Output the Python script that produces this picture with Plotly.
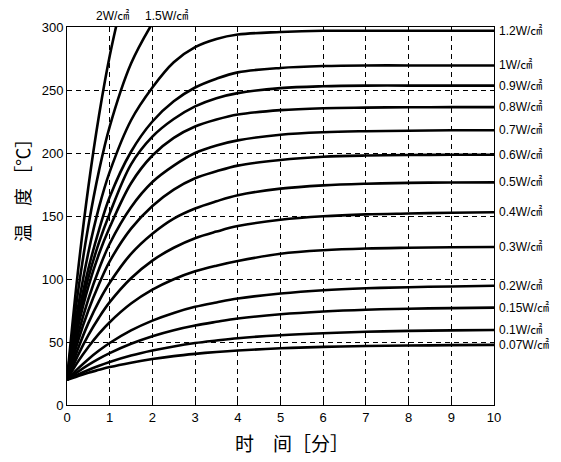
import plotly.graph_objects as go

# time [min] sample points
t = [0, 0.25, 0.5, 0.75, 1, 1.5, 2, 2.5, 3, 3.5, 4, 5, 6, 7, 8, 9, 10]

# temperature [degC] for each heat flux, read at the times above
p120 = [20, 76, 121, 157, 185, 226, 252, 272, 284, 290.5, 294, 296, 297, 297, 297, 297, 297]
p100 = [20, 69, 108, 139, 165, 201, 225, 241, 252, 259, 264, 267.5, 269, 269.5, 269.5, 269.5, 269.5]
p090 = [20, 65, 101, 129, 152, 191, 213, 227, 237, 243.5, 247.5, 251.5, 253, 253.5, 253.5, 253.5, 253.5]
p080 = [20, 61, 94, 120, 141, 176, 198, 212, 221, 226.5, 230.5, 234, 235.5, 236, 236.3, 236.4, 236.4]
p070 = [20, 55, 84, 108, 128, 157, 177, 190, 200, 206, 210, 214.5, 216.5, 217.3, 217.7, 218, 218]
p060 = [20, 50, 75, 96, 114, 140, 158, 171, 180, 185.5, 190, 194.5, 197, 198, 198.4, 198.6, 198.6]
p050 = [20, 44, 65, 82.5, 97, 120, 136, 148, 156, 161.7, 166.5, 171.7, 174.3, 175.6, 176.3, 176.6, 176.7]
p040 = [20, 39, 55.5, 69.5, 81.6, 100.6, 114.6, 124.8, 132.4, 137.6, 142, 147, 149.8, 151.3, 152, 152.6, 153]
p030 = [20, 34, 46, 56.6, 65.7, 80.5, 91.5, 99.8, 106.1, 110.6, 114.3, 120, 122.8, 124.2, 124.8, 125.2, 125.4]
p020 = [20, 28.7, 36.4, 43.2, 49.2, 59.2, 67, 73.1, 77.9, 81.4, 84.5, 88.5, 91.1, 92.6, 93.5, 94.1, 94.6]
p015 = [20, 26.2, 31.8, 36.8, 41.2, 48.6, 54.6, 59.4, 63.1, 66, 68.6, 72, 74.2, 75.6, 76.4, 76.9, 77.3]
p010 = [20, 24.1, 27.8, 31.1, 34.1, 39.2, 43.2, 46.5, 49.2, 51.2, 53, 55.4, 57, 58.1, 58.8, 59.2, 59.5]
p007 = [20, 22.9, 25.6, 27.9, 30.1, 33.6, 36.5, 38.8, 40.6, 42.1, 43.3, 45, 46.1, 46.8, 47.2, 47.5, 47.7]

# the two fast curves leave the top of the chart
t200 = [0, 0.25, 0.5, 0.75, 1.0, 1.25]
p200 = [20, 104, 173, 230, 277, 315]
t150 = [0, 0.25, 0.5, 0.75, 1.0, 1.5, 2.0]
p150 = [20, 88, 142, 186, 221, 271, 303]

right_labels = ['1.2', '1', '0.9', '0.8', '0.7', '0.6', '0.5', '0.4', '0.3', '0.2', '0.15', '0.1', '0.07']
right_series = [p120, p100, p090, p080, p070, p060, p050, p040, p030, p020, p015, p010, p007]

x_ticks = list(range(0, 11))
y_ticks = [0, 50, 100, 150, 200, 250, 300]

lat = 'Liberation Sans, Arial, Noto Sans CJK SC'
cjk = 'Noto Sans CJK SC'

fig = go.Figure()

line = dict(color='black', width=2.6, shape='spline', smoothing=1)
fig.add_trace(go.Scatter(x=t200, y=p200, mode='lines', line=line, showlegend=False))
fig.add_trace(go.Scatter(x=t150, y=p150, mode='lines', line=line, showlegend=False))
for ys in right_series:
    fig.add_trace(go.Scatter(x=t, y=ys, mode='lines', line=line, showlegend=False))

annotations = []
for lab, ys in zip(right_labels, right_series):
    annotations.append(dict(
        x=1, xref='paper', y=ys[-1], yref='y',
        text=lab + 'W/㎠', showarrow=False,
        xanchor='left', yanchor='middle', xshift=3,
        font=dict(family=lat, size=12, color='black')))

# labels above the two steep curves
annotations.append(dict(x=1.06, xref='x', y=1, yref='paper', text='2W/㎠',
                        showarrow=False, yanchor='bottom', yshift=2,
                        font=dict(family=lat, size=12, color='black')))
annotations.append(dict(x=2.33, xref='x', y=1, yref='paper', text='1.5W/㎠',
                        showarrow=False, yanchor='bottom', yshift=2,
                        font=dict(family=lat, size=12, color='black')))

# axis titles
annotations.append(dict(x=-0.106, xref='paper', y=0.579, yref='paper',
                        text='温　度 ［℃］', textangle=-90, showarrow=False,
                        xanchor='center', yanchor='middle',
                        font=dict(family=cjk, size=18, color='black')))
annotations.append(dict(x=0.389, xref='paper', y=-0.1, yref='paper',
                        text='时　间［分］', showarrow=False,
                        xanchor='left', yanchor='middle',
                        font=dict(family=cjk, size=19, color='black')))

axis_common = dict(
    showline=True, mirror=True, linecolor='black', linewidth=1,
    showgrid=True, gridcolor='black', gridwidth=1, griddash='5px,4px',
    zeroline=False, ticks='inside', ticklen=4, tickcolor='black',
    tickfont=dict(family=lat, size=13, color='black'),
)

# page body has an 8px margin, so the figure is shifted by 8px
fig.update_layout(
    width=553, height=454,
    margin=dict(l=59, r=67, t=19, b=57),
    plot_bgcolor='white', paper_bgcolor='white',
    xaxis=dict(range=[0, 10], tickvals=x_ticks, **axis_common),
    yaxis=dict(range=[0, 300], tickvals=y_ticks, **axis_common),
    annotations=annotations,
)

fig.write_html('out.html')
